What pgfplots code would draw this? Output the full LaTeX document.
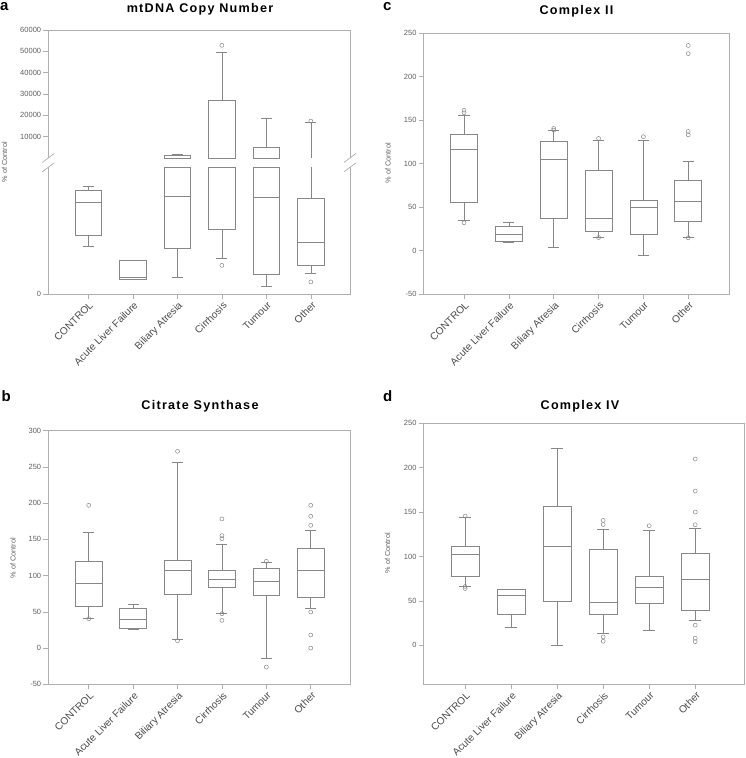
\documentclass[border=0pt]{standalone}
\usepackage{fontspec}
\setmainfont{Liberation Sans}
\usepackage{pgfplots}
\pgfplotsset{compat=1.18}
\usepgfplotslibrary{statistics}
\definecolor{boxcol}{RGB}{135,135,135}
\definecolor{framecol}{RGB}{175,175,175}
\definecolor{tickcol}{RGB}{95,95,95}
\definecolor{labcol}{RGB}{75,75,75}
\pgfplotsset{
  panel/.style={
    scale only axis,
    anchor=north west,
    xtick={0,...,5},
    xticklabels={CONTROL, Acute Liver Failure, Biliary Atresia, Cirrhosis, Tumour, Other},
    xticklabel style={rotate=45, anchor=north east, font=\fontsize{10.2}{11}\selectfont, text=labcol, inner sep=1pt, yshift=-0.5pt},
    yticklabel style={font=\fontsize{7.5}{8}\selectfont, text=tickcol, inner sep=2pt},
    tick align=outside, tick pos=left, major tick length=5pt,
    every tick/.style={framecol, line width=0.6pt},
    axis line style={framecol, line width=0.8pt},
    /pgf/number format/assume math mode=true,
    /pgf/number format/1000 sep={},
    boxplot/draw direction=y,
    boxplot/box extend=0.6,
    boxplot/whisker extend=0.25,
    clip=false,
  },
  bx/.style={boxcol, line width=0.6pt, solid, mark=o, mark size=2pt, mark options={boxcol, line width=0.5pt}},
  ln/.style={boxcol, line width=0.6pt, solid, mark=none},
}
\newcommand{\ylab}{\fontsize{7.3}{8}\selectfont\color{tickcol}\% of Control}
\newcommand{\ttl}{\bfseries\fontsize{12.6}{14}\selectfont\addfontfeatures{LetterSpace=10}}
\newcommand{\plab}{\bfseries\fontsize{15}{15}\selectfont}
\begin{document}
\begin{tikzpicture}
\useasboundingbox (0,0) rectangle (746pt,758pt);

% ---------------- panel a (upper) : values in thousands of % ----------------
\begin{axis}[panel, at={(48.3pt,728pt)}, width=301.7pt, height=128pt,
  xmin=-0.9, xmax=5.88, ymin=0, ymax=60, ytick={10,20,...,60},
  yticklabels={10000,20000,30000,40000,50000,60000},
  xmajorticks=false, axis line style={draw=none}]
\addplot[bx, boxplot prepared={draw position=2, lower whisker=0, lower quartile=0, median=0, upper quartile=1.2, upper whisker=1.9}] coordinates {};
\addplot[bx, boxplot prepared={draw position=3, lower whisker=0, lower quartile=0, median=0, upper quartile=27, upper whisker=49.7}] coordinates {(0,52.8)};
\addplot[bx, boxplot prepared={draw position=4, lower whisker=0, lower quartile=0, median=0, upper quartile=5, upper whisker=18.4}] coordinates {};
\addplot[ln] coordinates {(5,0) (5,16.9)};
\addplot[ln] coordinates {(4.875,16.9) (5.125,16.9)};
\addplot[only marks, mark=o, mark size=2pt, mark options={boxcol, line width=0.5pt}] coordinates {(5,17.3)};
\coordinate (UL) at (rel axis cs:0,0);
\coordinate (UR) at (rel axis cs:1,0);
\coordinate (TL) at (rel axis cs:0,1);
\coordinate (TR) at (rel axis cs:1,1);
\end{axis}

% ---------------- panel a (lower) : values in hundreds of % ----------------
\begin{axis}[panel, at={(48.3pt,590.7pt)}, width=301.7pt, height=126.7pt,
  xmin=-0.9, xmax=5.88, ymin=0, ymax=10, ytick={0},
  axis line style={draw=none}]
\addplot[bx, boxplot prepared={draw position=0, lower whisker=3.76, lower quartile=4.61, median=7.24, upper quartile=8.21, upper whisker=8.48}] coordinates {};
\addplot[bx, boxplot prepared={draw position=1, lower whisker=1.16, lower quartile=1.16, median=1.34, upper quartile=2.66, upper whisker=2.66}] coordinates {};
\addplot[bx, boxplot prepared={draw position=2, lower whisker=1.34, lower quartile=3.61, median=7.74, upper quartile=10, upper whisker=10}] coordinates {};
\addplot[bx, boxplot prepared={draw position=3, lower whisker=2.82, lower quartile=5.11, median=10, upper quartile=10, upper whisker=10}] coordinates {(0,2.26)};
\addplot[bx, boxplot prepared={draw position=4, lower whisker=0.63, lower quartile=1.55, median=7.63, upper quartile=10, upper whisker=10}] coordinates {};
\addplot[bx, boxplot prepared={draw position=5, lower whisker=1.63, lower quartile=2.26, median=4.08, upper quartile=7.55, upper whisker=7.55}] coordinates {(0,0.95)};
\addplot[ln] coordinates {(5,7.55) (5,10)};
\coordinate (LL) at (rel axis cs:0,1);
\coordinate (LR) at (rel axis cs:1,1);
\coordinate (BL) at (rel axis cs:0,0);
\coordinate (BR) at (rel axis cs:1,0);
\end{axis}
\draw[framecol, line width=0.8pt] (UL) -- (TL) -- (TR) -- (UR);
\draw[framecol, line width=0.8pt] (LL) -- (BL) -- (BR) -- (LR);
\foreach \c in {UL,UR,LL,LR}{
  \draw[framecol, line width=0.7pt] (\c) ++(-6pt,-4.5pt) -- ++(12pt,9pt);
}

% ---------------- panel b ----------------
\begin{axis}[panel, at={(48.3pt,327.3pt)}, width=302.4pt, height=253.6pt,
  xmin=-0.91, xmax=5.9, ymin=-50, ymax=300, ytick={-50,0,50,...,300}]
\addplot[bx, boxplot prepared={draw position=0, lower whisker=41, lower quartile=58, median=88.9, upper quartile=119.7, upper whisker=160.2}] coordinates {(0,197) (0,40.5)};
\addplot[bx, boxplot prepared={draw position=1, lower whisker=25.3, lower quartile=27.6, median=39.1, upper quartile=54.3, upper whisker=60.8}] coordinates {};
\addplot[bx, boxplot prepared={draw position=2, lower whisker=12.4, lower quartile=74.1, median=106.8, upper quartile=121.5, upper whisker=256.9}] coordinates {(0,271.6) (0,10.1)};
\addplot[bx, boxplot prepared={draw position=3, lower whisker=48.3, lower quartile=83.8, median=94.8, upper quartile=107.7, upper whisker=143.6}] coordinates {(0,178.2) (0,155.2) (0,151) (0,47.4) (0,38.2)};
\addplot[bx, boxplot prepared={draw position=4, lower whisker=-14.3, lower quartile=72.3, median=91.6, upper quartile=110, upper whisker=118.3}] coordinates {(0,119.7) (0,-26.2)};
\addplot[bx, boxplot prepared={draw position=5, lower whisker=54.8, lower quartile=70, median=107.3, upper quartile=137.2, upper whisker=163}] coordinates {(0,197) (0,181.9) (0,169.4) (0,49.7) (0,18) (0,0)};
\end{axis}

% ---------------- panel c ----------------
\begin{axis}[panel, at={(423.7pt,724.7pt)}, width=305.3pt, height=260.7pt,
  xmin=-0.9, xmax=5.91, ymin=-50, ymax=250, ytick={-50,0,50,...,250}]
\addplot[bx, boxplot prepared={draw position=0, lower whisker=34.6, lower quartile=55.7, median=116.4, upper quartile=133.2, upper whisker=155.5}] coordinates {(0,161.5) (0,158.5) (0,31.9)};
\addplot[bx, boxplot prepared={draw position=1, lower whisker=10, lower quartile=10.7, median=18.4, upper quartile=28, upper whisker=32.3}] coordinates {};
\addplot[bx, boxplot prepared={draw position=2, lower whisker=3.8, lower quartile=36.9, median=104.8, upper quartile=125.2, upper whisker=138.2}] coordinates {(0,140.5) (0,138.6)};
\addplot[bx, boxplot prepared={draw position=3, lower whisker=15.4, lower quartile=22.3, median=36.9, upper quartile=92.5, upper whisker=126.7}] coordinates {(0,129) (0,15)};
\addplot[bx, boxplot prepared={draw position=4, lower whisker=-5.8, lower quartile=18.4, median=49.5, upper quartile=57.6, upper whisker=126.7}] coordinates {(0,131)};
\addplot[bx, boxplot prepared={draw position=5, lower whisker=15, lower quartile=33.4, median=56.4, upper quartile=80.3, upper whisker=102.5}] coordinates {(0,236) (0,226.6) (0,137) (0,133.2) (0,14.6)};
\end{axis}

% ---------------- panel d ----------------
\begin{axis}[panel, at={(423.7pt,334.7pt)}, width=320.3pt, height=261pt,
  xmin=-0.9, xmax=6.06, ymin=-44, ymax=250, ytick={0,50,...,250}]
\addplot[bx, boxplot prepared={draw position=0, lower whisker=66.5, lower quartile=77.4, median=102.6, upper quartile=111.6, upper whisker=143.6}] coordinates {(0,145.5) (0,66.2) (0,63.9)};
\addplot[bx, boxplot prepared={draw position=1, lower whisker=20.3, lower quartile=35, median=56, upper quartile=63.5, upper whisker=63.5}] coordinates {};
\addplot[bx, boxplot prepared={draw position=2, lower whisker=0, lower quartile=50, median=111.6, upper quartile=156.7, upper whisker=222.2}] coordinates {};
\addplot[bx, boxplot prepared={draw position=3, lower whisker=13.2, lower quartile=35, median=48.5, upper quartile=107.9, upper whisker=130.4}] coordinates {(0,140.6) (0,136) (0,9.4) (0,4.5)};
\addplot[bx, boxplot prepared={draw position=4, lower whisker=16.9, lower quartile=47.4, median=65, upper quartile=77.4, upper whisker=129.3}] coordinates {(0,134.6)};
\addplot[bx, boxplot prepared={draw position=5, lower whisker=28.6, lower quartile=39.5, median=74.4, upper quartile=103.7, upper whisker=132}] coordinates {(0,209.8) (0,173.7) (0,150) (0,135.7) (0,22.6) (0,7.9) (0,4.1)};
\end{axis}

% ---------------- titles, panel letters, y labels ----------------
\node[anchor=base, inner sep=0pt, font=\ttl] at (200pt,745.7pt) {mtDNA Copy Number};
\node[anchor=base, inner sep=0pt, font=\ttl] at (576.5pt,743pt) {Complex II};
\node[anchor=base, inner sep=0pt, font=\ttl] at (200pt,348.7pt) {Citrate Synthase};
\node[anchor=base, inner sep=0pt, font=\ttl] at (580pt,348.7pt) {Complex IV};
\node[anchor=base west, inner sep=0pt, font=\plab] at (0pt,747pt) {a};
\node[anchor=base west, inner sep=0pt, font=\plab] at (1.5pt,356.3pt) {b};
\node[anchor=base west, inner sep=0pt, font=\plab] at (383pt,747pt) {c};
\node[anchor=base west, inner sep=0pt, font=\plab] at (383pt,356.3pt) {d};
\node[rotate=90, inner sep=0pt] at (4.5pt,596pt) {\ylab};
\node[rotate=90, inner sep=0pt] at (13pt,200pt) {\ylab};
\node[rotate=90, inner sep=0pt] at (388pt,595pt) {\ylab};
\node[rotate=90, inner sep=0pt] at (387.5pt,205pt) {\ylab};
\end{tikzpicture}
\end{document}
